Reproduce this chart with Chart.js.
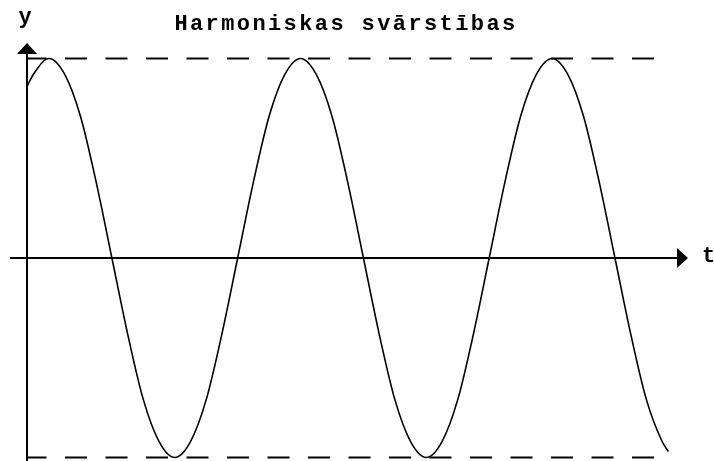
<!DOCTYPE html>
<html>
<head>
<meta charset="utf-8">
<title>Harmoniskas svārstības</title>
<script src="https://cdn.jsdelivr.net/npm/chart.js@4/dist/chart.umd.min.js"></script>
<style>
  html, body { margin: 0; padding: 0; background: #fff; }
  #wrap { width: 714px; height: 461px; position: relative; }
</style>
</head>
<body>
<div id="wrap"><canvas id="osc"></canvas></div>
<script>
// time (one unit = 1/8 of a period) and displacement of the curve
const tValues = [0, 0.2, 0.7, 1.2, 1.7, 2.2, 2.7, 3.2, 3.7, 4.2, 4.7, 5.2, 5.7, 6.2, 6.7,
  7.2, 7.7, 8.2, 8.7, 9.2, 9.7, 10.2, 10.7, 11.2, 11.7, 12.2, 12.7, 13.2, 13.7, 14.2,
  14.7, 15.2, 15.7, 16.2, 16.7, 17.2, 17.7, 18.2, 18.7, 19.2, 19.7, 20.2, 20.4];
const yValues = [0.86, 0.92, 1, 0.92, 0.71, 0.38, 0, -0.38, -0.71, -0.92, -1, -0.92, -0.71, -0.38, 0,
  0.38, 0.71, 0.92, 1, 0.92, 0.71, 0.38, 0, -0.38, -0.71, -0.92, -1, -0.92, -0.71, -0.38,
  0, 0.38, 0.71, 0.92, 1, 0.92, 0.71, 0.38, 0, -0.38, -0.71, -0.92, -0.97];

// amplitude guide lines
const ampX = [0, 20];
const ampTop = [1, 1];
const ampBottom = [-1, -1];

const titleText = 'Harmoniskas svārstības';
const yLabel = 'y';
const tLabel = 't';

const toPoints = (xs, ys) => xs.map((x, i) => ({ x: x, y: ys[i] }));

const monoFont = 'bold 22px "Liberation Mono", "Courier New", monospace';

// axes with arrow heads, plus the title and axis names
const axesPlugin = {
  id: 'axesPlugin',
  afterDatasetsDraw(chart) {
    const ctx = chart.ctx;
    const xs = chart.scales.x;
    const ys = chart.scales.y;
    const x0 = xs.getPixelForValue(0);
    const y0 = ys.getPixelForValue(0);

    ctx.save();
    ctx.strokeStyle = '#000';
    ctx.fillStyle = '#000';
    ctx.lineWidth = 2;

    // vertical axis
    ctx.beginPath();
    ctx.moveTo(x0, 461);
    ctx.lineTo(x0, 50);
    ctx.stroke();
    ctx.beginPath();
    ctx.moveTo(x0, 43);
    ctx.lineTo(x0 - 10, 54);
    ctx.lineTo(x0 + 10, 54);
    ctx.closePath();
    ctx.fill();

    // horizontal axis
    ctx.beginPath();
    ctx.moveTo(10, y0);
    ctx.lineTo(680, y0);
    ctx.stroke();
    ctx.beginPath();
    ctx.moveTo(688, y0);
    ctx.lineTo(677, y0 - 10);
    ctx.lineTo(677, y0 + 10);
    ctx.closePath();
    ctx.fill();

    ctx.font = monoFont;
    ctx.textBaseline = 'middle';
    ctx.textAlign = 'center';
    ctx.letterSpacing = '2.4px';
    ctx.fillText(titleText, 346, 24);
    ctx.letterSpacing = '0px';
    ctx.fillText(yLabel, 25, 17);
    ctx.textAlign = 'left';
    ctx.fillText(tLabel, 702, y0 - 2);
    ctx.restore();
  }
};

new Chart(document.getElementById('osc'), {
  type: 'line',
  data: {
    datasets: [
      {
        data: toPoints(tValues, yValues),
        borderColor: '#000',
        borderWidth: 1.6,
        pointRadius: 0,
        cubicInterpolationMode: 'monotone',
        fill: false
      },
      {
        data: toPoints(ampX, ampTop),
        borderColor: '#000',
        borderWidth: 2,
        borderDash: [22, 18.5],
        borderDashOffset: 2.5,
        pointRadius: 0
      },
      {
        data: toPoints(ampX, ampBottom),
        borderColor: '#000',
        borderWidth: 2,
        borderDash: [22, 18.5],
        borderDashOffset: 2.5,
        pointRadius: 0
      }
    ]
  },
  options: {
    responsive: true,
    maintainAspectRatio: false,
    animation: false,
    layout: { padding: 0 },
    plugins: {
      legend: { display: false },
      title: { display: false },
      tooltip: { enabled: false }
    },
    scales: {
      x: { type: 'linear', display: false, min: -0.859, max: 21.85 },
      y: { type: 'linear', display: false, min: -1.0176, max: 1.2932 }
    }
  },
  plugins: [axesPlugin]
});
</script>
</body>
</html>
